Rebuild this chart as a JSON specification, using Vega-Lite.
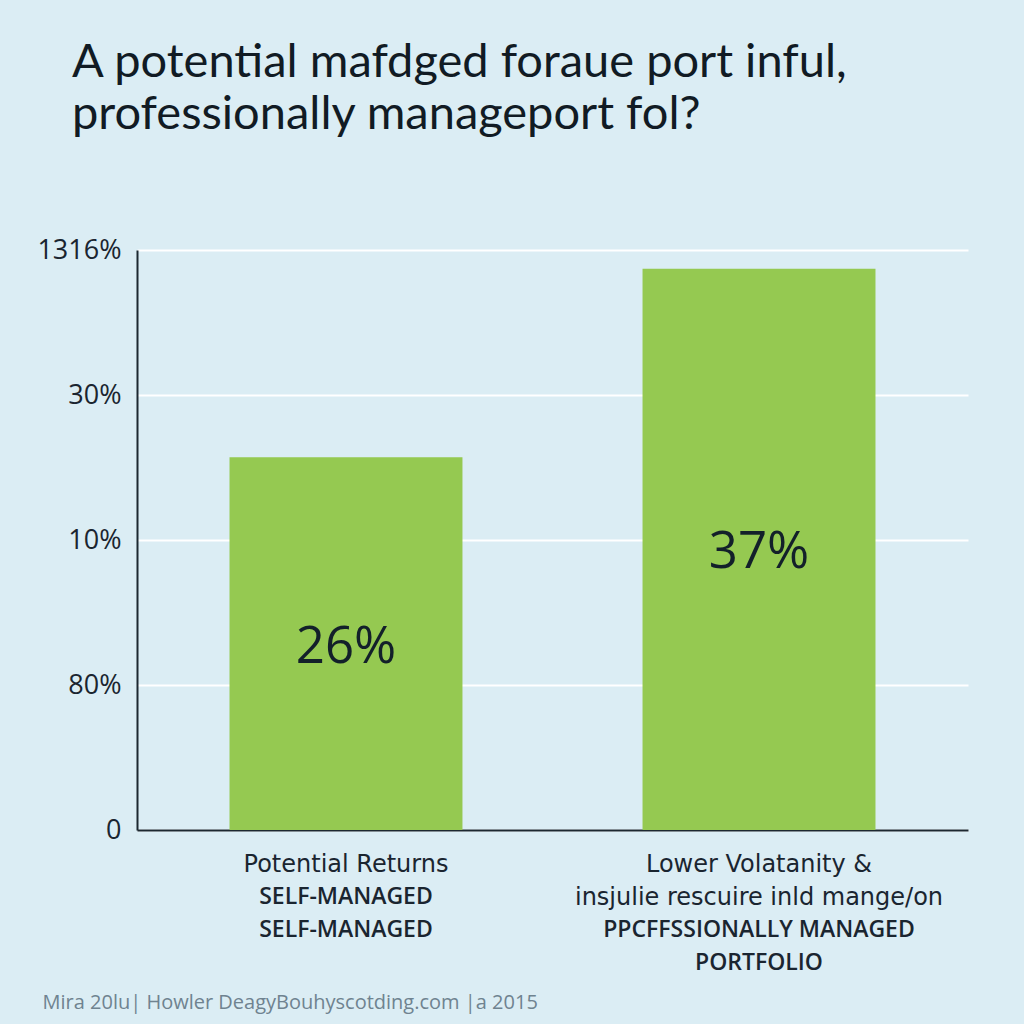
{
  "$schema": "https://vega.github.io/schema/vega-lite/v6.json",
  "width": 831,
  "height": 580,
  "autosize": {"type": "none"},
  "padding": {"left": 137, "top": 250, "right": 56, "bottom": 194},
  "background": "#dbedf4",
  "config": {"view": {"stroke": null}},
  "title": {
    "text": ["A potential mafdged foraue port inful,", "professionally manageport fol?"],
    "anchor": "start",
    "frame": "group",
    "dx": -65,
    "font": "Lato",
    "fontSize": 47,
    "fontWeight": "normal",
    "color": "#111b24",
    "lineHeight": 52,
    "offset": 97
  },
  "data": {
    "values": [
      {"category": "Potential Returns", "value": 2.57, "label": "26%"},
      {"category": "Lower Volatanity &", "value": 3.87, "label": "37%"}
    ]
  },
  "layer": [
    {
      "mark": {"type": "bar", "color": "#95c951"},
      "encoding": {
        "x": {
          "field": "category", "type": "nominal", "sort": null,
          "scale": {"paddingInner": 0.436, "paddingOuter": 0.224},
          "axis": {
            "title": null, "labelAngle": 0, "ticks": false, "labelLimit": 0,
            "domain": true, "domainColor": "#1c2830", "domainWidth": 2,
            "labelFont": "DejaVu Sans", "labelFontSize": 24, "labelColor": "#1a2530",
            "labelLineHeight": 33, "labelBaseline": "top", "labelPadding": 22,
            "labelExpr": "datum.value == 'Potential Returns' ? ['Potential Returns'] : ['Lower Volatanity &', 'insjulie rescuire inld mange/on']"
          }
        },
        "y": {
          "field": "value", "type": "quantitative",
          "scale": {"domain": [0, 4]},
          "axis": {
            "title": null, "values": [0, 1, 2, 3, 4], "ticks": false,
            "domain": true, "domainColor": "#1c2830", "domainWidth": 2,
            "grid": true, "gridColor": "#ffffff", "gridWidth": 2,
            "labelFont": "Open Sans", "labelFontSize": 27, "labelColor": "#1a2530",
            "labelPadding": 16,
            "labelExpr": "['0', '80%', '10%', '30%', '1316%'][datum.value]"
          }
        }
      }
    },
    {
      "transform": [{"calculate": "datum.value / 2", "as": "mid"}],
      "mark": {"type": "text", "font": "Open Sans", "fontSize": 51, "color": "#13202a", "baseline": "middle", "dy": 4},
      "encoding": {
        "x": {"field": "category", "type": "nominal", "sort": null, "axis": null},
        "y": {"field": "mid", "type": "quantitative"},
        "text": {"field": "label"}
      }
    },
    {
      "mark": {"type": "bar", "opacity": 0},
      "encoding": {
        "x": {
          "field": "category", "type": "nominal", "sort": null,
          "axis": {
            "orient": "bottom",
            "labelAngle": 0, "ticks": false, "domain": false, "labelLimit": 0,
            "labelFont": "Open Sans", "labelFontSize": 23, "labelFontWeight": 600, "labelColor": "#1a2530",
            "labelLineHeight": 33, "labelBaseline": "top", "labelPadding": 22,
            "labelExpr": "datum.value == 'Potential Returns' ? ['\u200b', 'SELF-MANAGED', 'SELF-MANAGED', '\u200b'] : ['\u200b', '\u200b', 'PPCFFSSIONALLY MANAGED', 'PORTFOLIO']",
            "title": "Mira 20lu| Howler DeagyBouhyscotding.com |a 2015",
            "titleAnchor": "start", "titleAlign": "left", "titleBaseline": "middle",
            "titleX": -95, "titleY": 172,
            "titleFont": "Open Sans", "titleFontSize": 20, "titleFontWeight": "normal", "titleColor": "#6f8390"
          }
        },
        "y": {"field": "value", "type": "quantitative"}
      }
    }
  ],
  "resolve": {"axis": {"x": "independent"}}
}
